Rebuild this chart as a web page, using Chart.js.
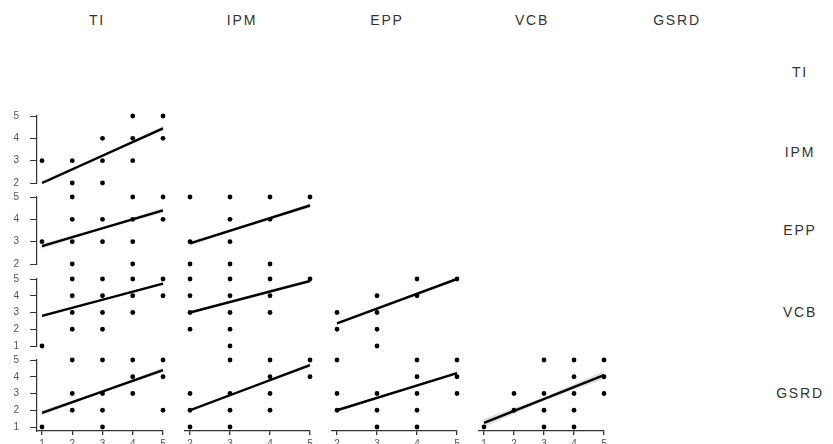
<!DOCTYPE html>
<html>
<head>
<meta charset="utf-8">
<script src="https://cdn.jsdelivr.net/npm/chart.js@4.4.0/dist/chart.umd.min.js"></script>
<style>
  html, body { margin: 0; padding: 0; background: #fff; }
  #wrap { position: relative; width: 833px; height: 444px; overflow: hidden; font-family: "Liberation Sans", Arial, sans-serif; }
  #wrap canvas { position: absolute; }
  .lab { position: absolute; color: #333; font-size: 14px; letter-spacing: 1.8px; transform: translate(-50%, -50%); white-space: nowrap; }
</style>
</head>
<body>
<div id="wrap"></div>
<script>
const variables = ['TI', 'IPM', 'EPP', 'VCB', 'GSRD'];
const colVars = ['TI', 'IPM', 'EPP', 'VCB'];
const rowVars = ['IPM', 'EPP', 'VCB', 'GSRD'];

const ticksTI = [1, 2, 3, 4, 5];
const ticksIPM = [2, 3, 4, 5];
const ticksEPP = [2, 3, 4, 5];
const ticksVCB = [1, 2, 3, 4, 5];
const ticksGSRD = [1, 2, 3, 4, 5];

// observed (x, y) pairs, x = column variable, y = row variable
const IPM_TI = [[4,5],[5,5],[3,4],[4,4],[5,4],[1,3],[2,3],[3,3],[4,3],[2,2],[3,2]];
const EPP_TI = [[2,5],[4,5],[5,5],[2,4],[3,4],[4,4],[5,4],[1,3],[2,3],[3,3],[4,3],[2,2],[4,2]];
const EPP_IPM = [[2,5],[3,5],[4,5],[5,5],[3,4],[4,4],[2,3],[3,3],[2,2],[3,2],[4,2]];
const VCB_TI = [[2,5],[3,5],[4,5],[5,5],[2,4],[3,4],[4,4],[5,4],[2,3],[3,3],[4,3],[2,2],[3,2],[1,1]];
const VCB_IPM = [[2,5],[3,5],[4,5],[5,5],[2,4],[3,4],[4,4],[2,3],[3,3],[4,3],[2,2],[3,2],[3,1]];
const VCB_EPP = [[4,5],[5,5],[3,4],[4,4],[2,3],[3,3],[2,2],[3,2],[3,1]];
const GSRD_TI = [[2,5],[3,5],[4,5],[5,5],[4,4],[5,4],[2,3],[3,3],[4,3],[2,2],[3,2],[5,2],[1,1],[3,1]];
const GSRD_IPM = [[3,5],[4,5],[5,5],[4,4],[5,4],[2,3],[3,3],[4,3],[2,2],[3,2],[4,2],[2,1],[3,1]];
const GSRD_EPP = [[2,5],[4,5],[5,5],[4,4],[5,4],[2,3],[3,3],[4,3],[5,3],[2,2],[3,2],[4,2],[3,1],[4,1]];
const GSRD_VCB = [[3,5],[4,5],[5,5],[4,4],[5,4],[2,3],[3,3],[4,3],[5,3],[2,2],[3,2],[4,2],[1,1],[3,1],[4,1]];

const panelRow = ['IPM', 'EPP', 'EPP', 'VCB', 'VCB', 'VCB', 'GSRD', 'GSRD', 'GSRD', 'GSRD'];
const panelCol = ['TI', 'TI', 'IPM', 'TI', 'IPM', 'EPP', 'TI', 'IPM', 'EPP', 'VCB'];
const panelPoints = [IPM_TI, EPP_TI, EPP_IPM, VCB_TI, VCB_IPM, VCB_EPP, GSRD_TI, GSRD_IPM, GSRD_EPP, GSRD_VCB];

// fitted line value at the low and high end of x, and CI half width at the ends
const fitStart = [2.0, 2.8, 2.92, 2.8, 3.0, 2.35, 1.85, 2.0, 2.0, 1.25];
const fitEnd = [4.45, 4.4, 4.62, 4.72, 4.88, 5.0, 4.4, 4.7, 4.22, 4.1];
const fitBand = [0.1, 0.12, 0.1, 0.1, 0.08, 0.08, 0.15, 0.12, 0.1, 0.25];

const tickSets = { TI: ticksTI, IPM: ticksIPM, EPP: ticksEPP, VCB: ticksVCB, GSRD: ticksGSRD };

// panel geometry (pixels)
const colLeft = [42, 190, 337, 484];
const colRight = [163, 310, 457, 604];
const rowTop = [116, 197, 279, 360];
const rowBottom = [183, 264, 346, 427];

const wrap = document.getElementById('wrap');

function label(text, x, y) {
    const d = document.createElement('div');
    d.className = 'lab';
    d.textContent = text;
    d.style.left = x + 'px';
    d.style.top = y + 'px';
    wrap.appendChild(d);
}

const headerX = [97, 242, 387, 532, 677];
const rowLabelY = [72, 152, 230, 312, 393];
variables.forEach((v, i) => {
    label(v, headerX[i], 20);
    label(v, 800, rowLabelY[i]);
});

const tickFont = { family: '"Liberation Sans", Arial, sans-serif', size: 10 };

// keep the axes from pushing the plot area around
function noPad(s) {
    s.paddingLeft = 0;
    s.paddingRight = 0;
    s.paddingTop = 0;
    s.paddingBottom = 0;
}

panelPoints.forEach((pts, k) => {
    const ri = rowVars.indexOf(panelRow[k]);
    const ci = colVars.indexOf(panelCol[k]);
    const xt = tickSets[panelCol[k]];
    const yt = tickSets[panelRow[k]];
    const xlo = xt[0], xhi = xt[xt.length - 1];
    const ylo = yt[0], yhi = yt[yt.length - 1];
    const leftCol = ci === 0;
    const bottomRow = ri === 3;

    const pxX = (colRight[ci] - colLeft[ci]) / (xhi - xlo);
    const pxY = (rowBottom[ri] - rowTop[ri]) / (yhi - ylo);
    const xmin = xlo - 5 / pxX;
    const ymin = bottomRow ? ylo - 4 / pxY : ylo;

    const cl = colLeft[ci] - 5, cr = colRight[ci];
    const ct = rowTop[ri], cb = rowBottom[ri] + (bottomRow ? 4 : 0);
    const L = leftCol ? 0 : cl - 6;
    const R = cr + 6;
    const T = ct - 8;
    const B = bottomRow ? 444 : cb + 5;

    const canvas = document.createElement('canvas');
    canvas.width = R - L;
    canvas.height = B - T;
    canvas.style.left = L + 'px';
    canvas.style.top = T + 'px';
    canvas.style.width = (R - L) + 'px';
    canvas.style.height = (B - T) + 'px';
    wrap.appendChild(canvas);

    const xm = (xlo + xhi) / 2;
    const ym = (fitStart[k] + fitEnd[k]) / 2;
    const w = fitBand[k];

    new Chart(canvas.getContext('2d'), {
        type: 'line',
        data: {
            datasets: [
                {
                    data: [{ x: xlo, y: fitStart[k] }, { x: xhi, y: fitEnd[k] }],
                    borderColor: '#000',
                    borderWidth: 2.4,
                    pointRadius: 0,
                    clip: false
                },
                {
                    data: pts.map(p => ({ x: p[0], y: p[1] })),
                    showLine: false,
                    pointRadius: 2.4,
                    pointBackgroundColor: '#000',
                    pointBorderWidth: 0,
                    clip: false
                },
                {
                    data: [{ x: xlo, y: fitStart[k] - w }, { x: xm, y: ym - w * 0.4 }, { x: xhi, y: fitEnd[k] - w }],
                    borderWidth: 0,
                    borderColor: 'rgba(0,0,0,0)',
                    pointRadius: 0,
                    clip: false
                },
                {
                    data: [{ x: xlo, y: fitStart[k] + w }, { x: xm, y: ym + w * 0.4 }, { x: xhi, y: fitEnd[k] + w }],
                    borderWidth: 0,
                    borderColor: 'rgba(0,0,0,0)',
                    pointRadius: 0,
                    fill: '-1',
                    backgroundColor: 'rgba(0,0,0,0.13)',
                    clip: false
                }
            ]
        },
        options: {
            responsive: false,
            animation: false,
            events: [],
            layout: {
                autoPadding: false,
                padding: { left: leftCol ? 0 : 6, right: 6, top: 8, bottom: bottomRow ? 0 : 5 }
            },
            plugins: {
                legend: { display: false },
                tooltip: { enabled: false },
                title: { display: false }
            },
            scales: {
                x: {
                    type: 'linear',
                    display: bottomRow,
                    min: xmin,
                    max: xhi,
                    afterBuildTicks: s => { s.ticks = xt.map(v => ({ value: v })); },
                    afterFit: s => { noPad(s); if (bottomRow) s.height = 444 - cb; },
                    grid: { drawOnChartArea: false, drawTicks: true, tickLength: 4, color: '#333', lineWidth: 1.3 },
                    border: { display: true, color: '#333', width: 1.2 },
                    ticks: { color: '#555', font: tickFont, padding: 3, maxRotation: 0, autoSkip: false }
                },
                y: {
                    type: 'linear',
                    display: leftCol,
                    min: ymin,
                    max: yhi,
                    afterBuildTicks: s => { s.ticks = yt.map(v => ({ value: v })); },
                    afterFit: s => { noPad(s); if (leftCol) s.width = cl; },
                    grid: { drawOnChartArea: false, drawTicks: true, tickLength: 7, color: '#333', lineWidth: 1 },
                    border: { display: true, color: '#333', width: 1.2 },
                    ticks: { color: '#555', font: tickFont, padding: 11, autoSkip: false }
                }
            }
        }
    });
});
</script>
</body>
</html>
